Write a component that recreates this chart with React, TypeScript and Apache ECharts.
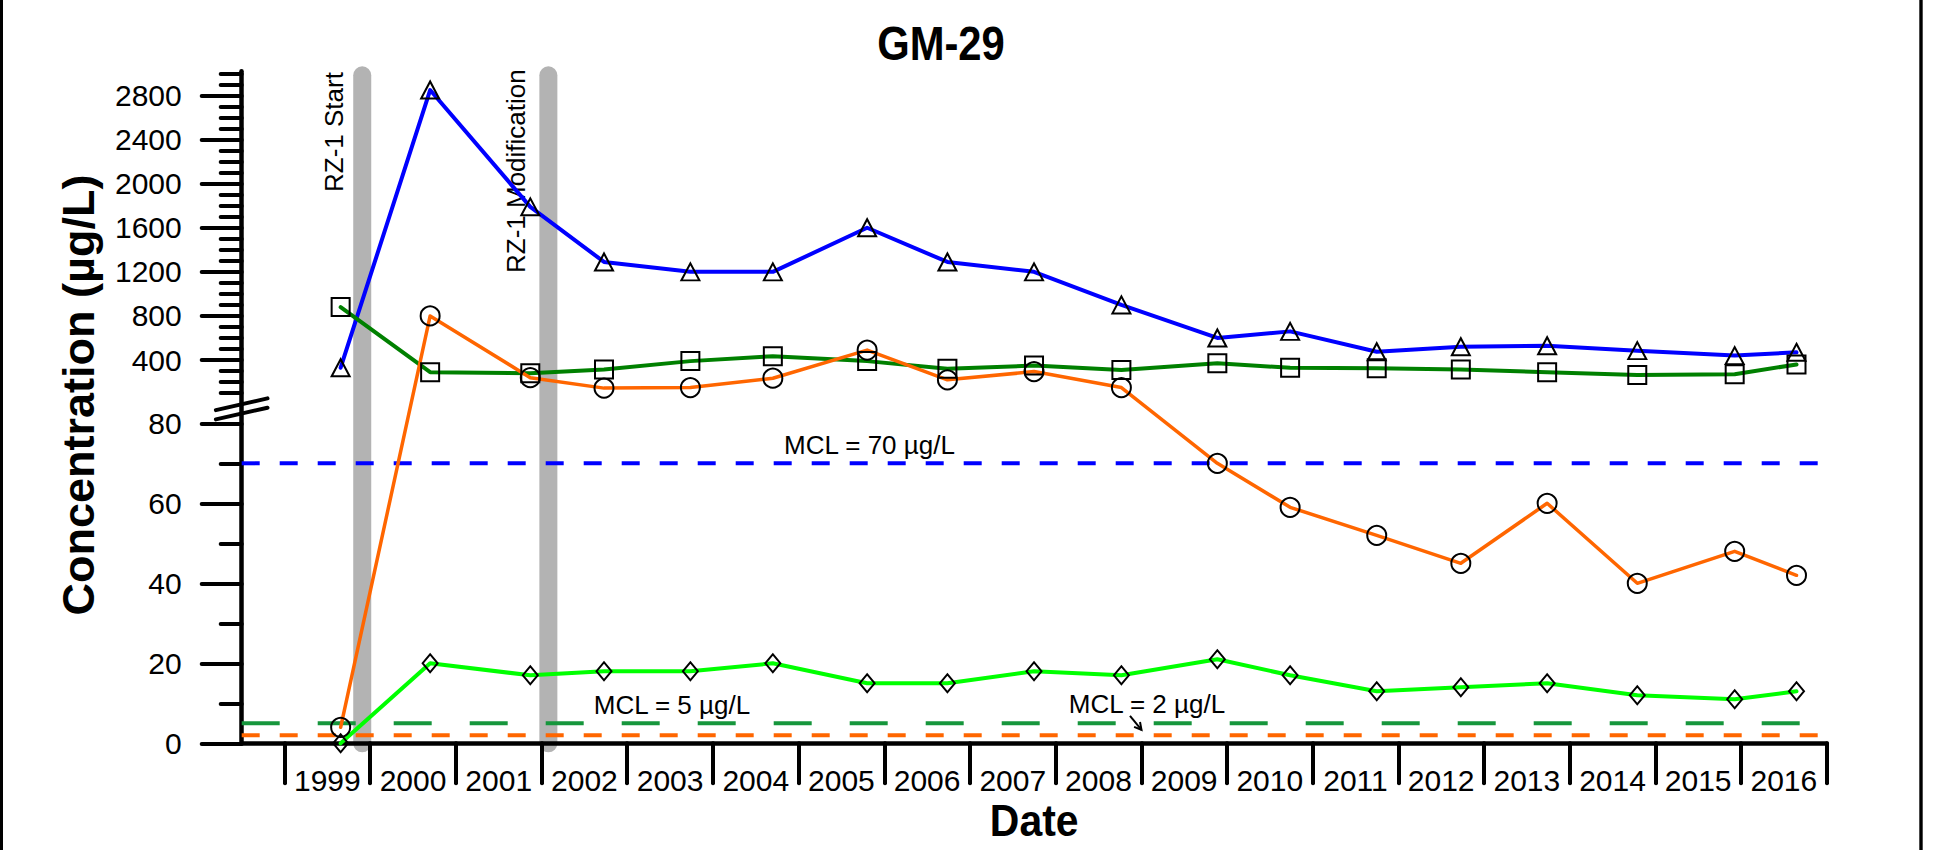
import React, { useEffect, useRef } from "react";
import * as echarts from "echarts";

// ---------------------------------------------------------------------------
// Monitoring data for well GM-29 (concentrations in µg/L)
// ---------------------------------------------------------------------------
const SAMPLE_DATES = [
  "1999-08-28", "2000-09-13", "2001-11-14", "2002-09-24", "2003-09-27",
  "2004-09-13", "2005-10-20", "2006-09-27", "2007-10-01", "2008-10-08",
  "2009-11-21", "2010-09-27", "2011-10-01", "2012-09-24", "2013-09-27",
  "2014-10-16", "2015-12-05", "2016-08-25",
];

// blue line, triangle markers
const TRIANGLE_VALUES = [330, 2850, 1790, 1290, 1200, 1200, 1600, 1290, 1200, 900, 600, 660, 475, 520, 530, 485, 440, 470];
// orange line, circle markers
const CIRCLE_VALUES = [4, 800, 240, 145, 150, 235, 490, 220, 295, 150, 70, 59, 52, 45, 60, 40, 48, 42];
// dark green line, square markers
const SQUARE_VALUES = [880, 290, 280, 315, 390, 435, 390, 320, 350, 310, 370, 330, 325, 315, 290, 265, 270, 360];
// lime line, diamond markers
const DIAMOND_VALUES = [0, 20, 17, 18, 18, 20, 15, 15, 18, 17, 21, 17, 13, 14, 15, 12, 11, 13];

// Maximum contaminant levels drawn as dashed reference lines
const MCL_BLUE = 70;
const MCL_GREEN = 5;
const MCL_ORANGE = 2;

// Remediation events shown as grey vertical bars
const EVENT_DATES = ["1999-11-28", "2002-01-30"];
const EVENT_LABELS = ["RZ-1 Start", "RZ-1 Modification"];

// Axis ticks and labels
const X_TICK_YEARS = [1999, 2000, 2001, 2002, 2003, 2004, 2005, 2006, 2007, 2008, 2009, 2010, 2011, 2012, 2013, 2014, 2015, 2016, 2017];
const X_LABEL_YEARS = [1999, 2000, 2001, 2002, 2003, 2004, 2005, 2006, 2007, 2008, 2009, 2010, 2011, 2012, 2013, 2014, 2015, 2016];
const Y_LOWER_MAJOR = [0, 20, 40, 60, 80];
const Y_LOWER_MINOR = [10, 30, 50, 70];
const Y_UPPER_MAJOR = [400, 800, 1200, 1600, 2000, 2400, 2800];
const Y_UPPER_MINOR = [100, 200, 300, 500, 600, 700, 900, 1000, 1100, 1300, 1400, 1500, 1700, 1800, 1900, 2100, 2200, 2300, 2500, 2600, 2700, 2900, 3000];

// ---------------------------------------------------------------------------
// Broken concentration axis: 0–82 µg/L is linear in axis units; values above
// the break are compressed onto the section above it.
// ---------------------------------------------------------------------------
const BREAK_VALUE = 82;
const UPPER_OFFSET = 84.8;
const UPPER_SCALE = 0.02755;
const Y_AXIS_MAX = 168;
const X_MIN = 1998.5;
const X_MAX = 2017;

const toAxis = (v: number) => (v <= BREAK_VALUE ? v : UPPER_OFFSET + v * UPPER_SCALE);
const fromAxis = (d: number) => (d <= BREAK_VALUE + 0.5 ? d : (d - UPPER_OFFSET) / UPPER_SCALE);

const toYear = (iso: string) => {
  const [y, m, d] = iso.split("-").map(Number);
  const start = Date.UTC(y, 0, 1);
  const end = Date.UTC(y + 1, 0, 1);
  return y + (Date.UTC(y, m - 1, d) - start) / (end - start);
};

const FONT = '"Liberation Sans", Arial, Helvetica, sans-serif';

const seriesPoints = (values: number[]) =>
  SAMPLE_DATES.map((d, i) => [toYear(d), toAxis(values[i])]);

const markerStyle = { color: "rgba(0,0,0,0)", borderColor: "#000", borderWidth: 2 };

function dataSeries(values: number[], color: string, symbol: string, size: number[], width: number) {
  return {
    type: "line",
    data: seriesPoints(values),
    symbol,
    symbolSize: size,
    showSymbol: true,
    showAllSymbol: true,
    lineStyle: { color, width, cap: "round", join: "round" },
    itemStyle: markerStyle,
    z: 3,
    clip: false,
    silent: true,
    emphasis: { disabled: true },
  };
}

function limitSeries(value: number, color: string, dash: number[]) {
  return {
    type: "line",
    data: [[X_MIN, toAxis(value)], [X_MAX, toAxis(value)]],
    symbol: "none",
    lineStyle: { color, width: 4, type: dash },
    z: 1,
    silent: true,
    emphasis: { disabled: true },
  };
}

function eventSeries(date: string) {
  const x = toYear(date);
  return {
    type: "line",
    data: [[x, 0], [x, Y_AXIS_MAX - 1]],
    symbol: "none",
    lineStyle: { color: "#b3b3b3", width: 18, cap: "round" },
    z: -1,
    clip: false,
    silent: true,
    emphasis: { disabled: true },
  };
}

const yMajorAxis = [...Y_LOWER_MAJOR, ...Y_UPPER_MAJOR].map(toAxis);
const yMinorAxis = [...Y_LOWER_MINOR, ...Y_UPPER_MINOR].map(toAxis);

function buildOption() {
  const tickLine = { color: "#000", width: 4, cap: "round" };
  return {
    animation: false,
    backgroundColor: "#ffffff",
    grid: { left: 241.7, right: 107.3, top: 71.3, bottom: 106.7, containLabel: false },
    xAxis: {
      type: "value",
      min: X_MIN,
      max: X_MAX,
      axisLine: { show: true, lineStyle: { color: "#000", width: 4.5 } },
      axisTick: { show: true, inside: false, length: 40, customValues: X_TICK_YEARS, lineStyle: tickLine },
      axisLabel: {
        customValues: X_LABEL_YEARS.map((y) => y + 0.5),
        formatter: (v: number) => String(Math.floor(v)),
        margin: 22,
        color: "#000",
        fontSize: 30,
        fontFamily: FONT,
      },
      splitLine: { show: false },
    },
    yAxis: [
      {
        type: "value",
        min: 0,
        max: Y_AXIS_MAX,
        position: "left",
        axisLine: { show: true, lineStyle: { color: "#000", width: 4.5 } },
        axisTick: { show: true, inside: false, length: 40, customValues: yMajorAxis, lineStyle: tickLine },
        axisLabel: {
          customValues: yMajorAxis,
          formatter: (d: number) => String(Math.round(fromAxis(d))),
          margin: 60,
          color: "#000",
          fontSize: 30,
          fontFamily: FONT,
        },
        splitLine: { show: false },
      },
      {
        type: "value",
        min: 0,
        max: Y_AXIS_MAX,
        position: "left",
        axisLine: { show: false },
        axisTick: { show: true, inside: false, length: 21, customValues: yMinorAxis, lineStyle: tickLine },
        axisLabel: { show: false },
        splitLine: { show: false },
      },
    ],
    series: [
      ...EVENT_DATES.map(eventSeries),
      limitSeries(MCL_BLUE, "#0000ff", [18, 20]),
      limitSeries(MCL_GREEN, "#16963c", [38, 38]),
      limitSeries(MCL_ORANGE, "#ff6600", [18, 20]),
      dataSeries(TRIANGLE_VALUES, "#0000ff", "triangle", [18, 17], 4),
      dataSeries(SQUARE_VALUES, "#008000", "rect", [18, 18], 4),
      dataSeries(CIRCLE_VALUES, "#ff6600", "circle", [19, 19], 3.5),
      dataSeries(DIAMOND_VALUES, "#00ff00", "diamond", [15, 18], 4),
    ],
  };
}

function buildGraphic(chart: echarts.ECharts) {
  const px = (x: number, y: number) => chart.convertToPixel({ gridIndex: 0 }, [x, y]) as number[];
  const [leftX] = px(X_MIN, 0);
  const [rightX] = px(X_MAX, 0);
  const black = "#000";

  const text = (t: string, x: number, y: number, size: number, extra: any = {}) => ({
    type: "text",
    x,
    y,
    silent: true,
    ...extra,
    style: {
      text: t,
      fill: black,
      fontSize: size,
      fontFamily: FONT,
      fontWeight: extra.bold ? "bold" : "normal",
      align: extra.align || "center",
      verticalAlign: "middle",
    },
  });

  // axis break marks
  const [, breakY] = px(X_MIN, 83.6);
  const breakMarks = [-4.65, 4.65].map((dy) => ({
    type: "line",
    silent: true,
    shape: { x1: leftX - 25.8, y1: breakY + dy + 5.85, x2: leftX + 25.8, y2: breakY + dy - 5.85 },
    style: { stroke: black, lineWidth: 4, lineCap: "round" },
  }));

  // event labels, rotated and set just left of each bar
  const eventStarts = [192, 273];
  const eventGaps = [28, 32];
  const eventTexts = EVENT_DATES.map((d, i) => {
    const [bx] = px(toYear(d), 0);
    return text(EVENT_LABELS[i], bx - eventGaps[i], eventStarts[i], 26, { rotation: Math.PI / 2, align: "left" });
  });

  // MCL labels
  const [, y70] = px(X_MIN, toAxis(MCL_BLUE));
  const [, y5] = px(X_MIN, toAxis(MCL_GREEN));
  const [, y2] = px(X_MIN, toAxis(MCL_ORANGE));
  const mclTexts = [
    text("MCL = 70 \u00b5g/L", 869.5, y70 - 18, 26),
    text("MCL = 5 \u00b5g/L", 672, y5 - 18.5, 26),
    text("MCL = 2 \u00b5g/L", 1147, y2 - 31, 26),
  ];

  // small arrow pointing from the 2 µg/L label to its line
  const tip = [1141.5, y2 - 5.5];
  const tail = [1130, y2 - 19.5];
  const ang = Math.atan2(tip[1] - tail[1], tip[0] - tail[0]);
  const head = (a: number) => [tip[0] - 8 * Math.cos(ang + a), tip[1] - 8 * Math.sin(ang + a)];
  const arrow = [
    { type: "line", silent: true, shape: { x1: tail[0], y1: tail[1], x2: tip[0], y2: tip[1] }, style: { stroke: black, lineWidth: 2 } },
    { type: "polyline", silent: true, shape: { points: [head(0.5), tip, head(-0.5)] }, style: { stroke: black, lineWidth: 2, fill: null } },
  ];

  return [
    // outer frame
    { type: "rect", silent: true, shape: { x: 0, y: 0, width: 3, height: 850 }, style: { fill: black } },
    { type: "rect", silent: true, shape: { x: 1919.3, y: 0, width: 3.4, height: 850 }, style: { fill: black } },
    text("GM-29", 941, 43, 48, { bold: true, scaleX: 0.87 }),
    text("Date", (leftX + rightX) / 2, 821, 44, { bold: true, scaleX: 0.93 }),
    text("Concentration (\u00b5g/L)", 78, 395, 45, { bold: true, rotation: Math.PI / 2 }),
    ...breakMarks,
    ...eventTexts,
    ...mclTexts,
    ...arrow,
  ].map((el: any) => {
    const { bold, align, ...rest } = el;
    return rest;
  });
}

export default function App() {
  const ref = useRef<HTMLDivElement>(null);
  useEffect(() => {
    if (!ref.current) return;
    const chart = echarts.init(ref.current, null, { renderer: "svg" });
    chart.setOption(buildOption() as any);
    chart.setOption({ graphic: buildGraphic(chart) } as any);
    return () => chart.dispose();
  }, []);
  return (
    <div
      ref={ref}
      style={{ position: "absolute", left: 0, top: 0, width: 1934, height: 850, background: "#fff" }}
    />
  );
}
